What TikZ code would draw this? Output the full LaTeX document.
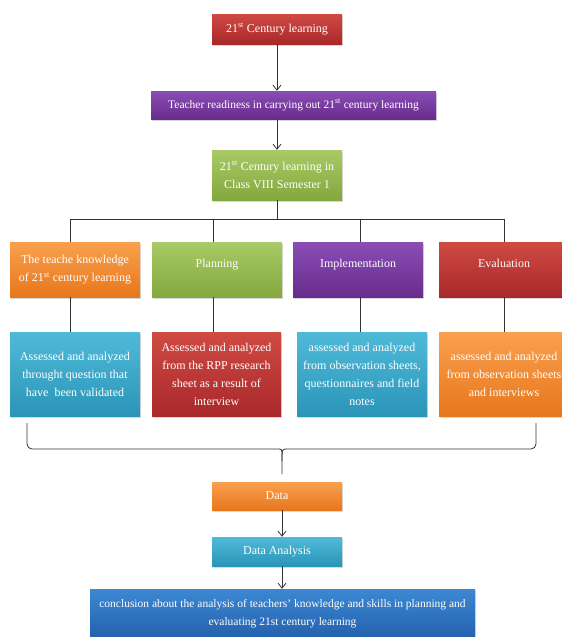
\documentclass[tikz,border=0pt]{standalone}
\usepackage{fontspec}
\setmainfont{Liberation Serif}
\usetikzlibrary{shadows,arrows.meta}

\definecolor{redT}{HTML}{CF4A43}
\definecolor{redB}{HTML}{A9282A}
\definecolor{purT}{HTML}{8A4DB5}
\definecolor{purB}{HTML}{682C8C}
\definecolor{grnT}{HTML}{A9CA66}
\definecolor{grnB}{HTML}{83A83D}
\definecolor{orgT}{HTML}{F9A04E}
\definecolor{orgB}{HTML}{E8771C}
\definecolor{aquT}{HTML}{4FBAD8}
\definecolor{aquB}{HTML}{2A95B8}
\definecolor{bluT}{HTML}{3C88D2}
\definecolor{bluB}{HTML}{2360AC}

\tikzset{
  box/.style={rectangle, inner sep=2pt, align=center, text=white,
    minimum width=130pt,
    drop shadow={opacity=0.3, shadow xshift=1.2pt, shadow yshift=-1.8pt},
    font=\fontsize{12}{18}\selectfont},
  redbox/.style={box, top color=redT, bottom color=redB},
  purbox/.style={box, top color=purT, bottom color=purB},
  grnbox/.style={box, top color=grnT, bottom color=grnB},
  orgbox/.style={box, top color=orgT, bottom color=orgB},
  aqubox/.style={box, top color=aquT, bottom color=aquB},
  blubox/.style={box, top color=bluT, bottom color=bluB},
  upper/.style={text depth=13pt},
  smaller/.style={font=\fontsize{11.5}{18}\selectfont},
  link/.style={line width=0.8pt, black!80},
  flow/.style={link, -{Straight Barb[length=5pt,width=8pt]}},
}

\begin{document}
\begin{tikzpicture}[x=1pt,y=-1pt]
                \useasboundingbox (0,0) rectangle (562,637);%

                % Drawing box top
                \node [redbox, minimum height=30pt] (top) at (277.0,29.0) {21\textsuperscript{st} Century learning};%

                % Drawing box ready
                \node [purbox, smaller, minimum width=285pt, minimum height=28pt] (ready) at (293.5,105.0) {Teacher readiness in carrying out 21\textsuperscript{st} century learning};%

                % Drawing box klass
                \node [grnbox, minimum height=50pt] (klass) at (277.0,175.0) {21\textsuperscript{st} Century learning in\\Class VIII Semester 1};%

                % Drawing boxes of the upper row
                \node [orgbox, minimum height=55pt] (know) at (75.0,269.5) {The teache knowledge\\of 21\textsuperscript{st} century learning};%
                \node [grnbox, upper, minimum height=55pt] (plan) at (217.0,269.5) {Planning};%
                \node [purbox, upper, minimum height=55pt] (impl) at (358.0,269.5) {Implementation};%
                \node [redbox, upper, minimum height=55pt] (eval) at (504.0,269.5) {Evaluation};%

                % Drawing boxes of the lower row
                \node [aqubox, minimum height=84pt] (ka) at (75.0,374.0) {Assessed and analyzed\\throught question that\\have \ been validated};%
                \node [redbox, minimum width=129pt, minimum height=84pt] (pa) at (216.5,374.0) {Assessed and analyzed\\from the RPP research\\sheet as a result of\\interview};%
                \node [aqubox, minimum height=84pt] (ia) at (362.0,374.0) {assessed and analyzed\\from observation sheets,\\questionnaires and field\\notes};%
                \node [orgbox, minimum height=84pt] (ea) at (504.0,374.0) {assessed and analyzed\\from observation sheets\\and interviews};%

                % Drawing box data
                \node [orgbox, minimum height=28pt] (data) at (277.0,496.0) {Data};%

                % Drawing box anal
                \node [aqubox, minimum height=29pt] (anal) at (277.0,551.5) {Data Analysis};%

                % Drawing box concl
                \node [blubox, smaller, minimum width=385pt, minimum height=50pt] (concl) at (282.5,614.0) {conclusion about the analysis of teachers' knowledge and skills in planning and\\evaluating 21st century learning};%

                % Drawing arrows top ready klass
                \draw [flow] (top.south) -- (top.south |- ready.north);%
                \draw [flow] (klass.north |- ready.south) -- (klass.north);%

                % Drawing segment klass bus
                \coordinate (b1) at (70.6,219.0);%
                \coordinate (b2) at (213.0,219.0);%
                \coordinate (b3) at (360.0,219.0);%
                \coordinate (b4) at (504.0,219.0);%
                \draw [link] (klass.south) -- (klass.south |- b1);%
                \draw [link] (b1) -- (b4);%

                % Drawing segments bus rows
                \draw [link] (b1) -- (b1 |- know.north);%
                \draw [link] (b2) -- (b2 |- plan.north);%
                \draw [link] (b3) -- (b3 |- impl.north);%
                \draw [link] (b4) -- (b4 |- eval.north);%
                \draw [link] (b1 |- know.south) -- (b1 |- ka.north);%
                \draw [link] (b2 |- plan.south) -- (b2 |- pa.north);%
                \draw [link] (b3 |- impl.south) -- (b3 |- ia.north);%
                \draw [link] (b4 |- eval.south) -- (b4 |- ea.north);%

                % Drawing brace
                \coordinate (bl) at (27.0,423.0);%
                \coordinate (br) at (536.0,423.0);%
                \coordinate (tip) at (282.0,474.0);%
                \draw [link, rounded corners=5pt] (bl) |- (272.0,449.0) .. controls (282.0,449.0) .. (282.0,461.0) -- (tip);%
                \draw [link, rounded corners=5pt] (br) |- (292.0,449.0) .. controls (282.0,449.0) .. (282.0,461.0);%

                % Drawing arrows data anal concl
                \draw [flow] (data.south -| tip) -- (anal.north -| tip);%
                \draw [flow] (anal.south -| tip) -- (concl.north -| tip);%
\end{tikzpicture}
\end{document}
